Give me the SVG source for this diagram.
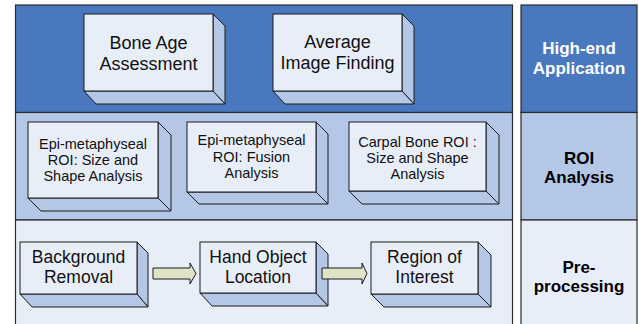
<svg xmlns="http://www.w3.org/2000/svg" width="639" height="324" viewBox="0 0 639 324">
<style>
.bd{stroke:#2b2b2b;stroke-width:1.2}
.front{fill:#e8eef8;stroke:#1a1a1a;stroke-width:1}
.side{fill:#b4c7e6;stroke:#1a1a1a;stroke-width:1;stroke-linejoin:miter}
.t{font-family:"Liberation Sans",Arial,sans-serif;fill:#111;text-anchor:middle;dominant-baseline:central}
.lab{font-family:"Liberation Sans",Arial,sans-serif;font-weight:bold;font-size:17px;text-anchor:middle;dominant-baseline:central}
.arr{fill:#dfe4c9;stroke:#1a1a1a;stroke-width:1}
</style>
<rect width="639" height="324" fill="#ffffff"/>
<g id="bands">
<rect x="15.5" y="5" width="497" height="107.5" fill="#4a78be" class="bd"/>
<rect x="15.5" y="112.5" width="497" height="107.5" fill="#b4c7e6" class="bd"/>
<rect x="15.5" y="220" width="497" height="110" fill="#e8eef8" class="bd"/>
<rect x="521" y="5" width="116" height="107.5" fill="#4a78be" class="bd"/>
<rect x="521" y="112.5" width="116" height="107.5" fill="#b4c7e6" class="bd"/>
<rect x="521" y="220" width="116" height="110" fill="#e8eef8" class="bd"/>
</g>
<g id="labels">
<text class="lab" x="579" y="48" fill="#ffffff">High-end</text>
<text class="lab" x="579" y="68" fill="#ffffff">Application</text>
<text class="lab" x="579" y="158" fill="#000">ROI</text>
<text class="lab" x="579" y="177" fill="#000">Analysis</text>
<text class="lab" x="579" y="267" fill="#000">Pre-</text>
<text class="lab" x="579" y="286" fill="#000">processing</text>
</g>
<g id="bone-age">
<polygon class="side" points="213,14 225,26 225,104 213,91"/>
<polygon class="side" points="84,91 96,104 225,104 213,91"/>
<rect class="front" x="84" y="14" width="129" height="77"/>
<text class="t" x="148.5" y="43" font-size="18">Bone Age</text>
<text class="t" x="148.5" y="64" font-size="18">Assessment</text>
</g>
<g id="avg-image">
<polygon class="side" points="402,14 414,26 414,104 402,91"/>
<polygon class="side" points="273,91 285,104 414,104 402,91"/>
<rect class="front" x="273" y="14" width="129" height="77"/>
<text class="t" x="337.5" y="42" font-size="18">Average</text>
<text class="t" x="337.5" y="63" font-size="18">Image Finding</text>
</g>
<g id="epi-size">
<polygon class="side" points="158,122 171,135 171,211 158,198"/>
<polygon class="side" points="28,198 41,211 171,211 158,198"/>
<rect class="front" x="28" y="122" width="130" height="76"/>
<text class="t" x="93" y="144" font-size="14.5">Epi-metaphyseal</text>
<text class="t" x="93" y="160" font-size="14.5">ROI: Size and</text>
<text class="t" x="93" y="176" font-size="14.5">Shape Analysis</text>
</g>
<g id="epi-fusion">
<polygon class="side" points="316,122 328,134 328,204 316,192"/>
<polygon class="side" points="187,192 199,204 328,204 316,192"/>
<rect class="front" x="187" y="122" width="129" height="70"/>
<text class="t" x="251.5" y="140" font-size="14.5">Epi-metaphyseal</text>
<text class="t" x="251.5" y="157" font-size="14.5">ROI: Fusion</text>
<text class="t" x="251.5" y="173" font-size="14.5">Analysis</text>
</g>
<g id="carpal">
<polygon class="side" points="486,122 499,135 499,204 486,191"/>
<polygon class="side" points="349,191 362,204 499,204 486,191"/>
<rect class="front" x="349" y="122" width="137" height="69"/>
<text class="t" x="417.5" y="142" font-size="14.5">Carpal Bone ROI :</text>
<text class="t" x="417.5" y="158" font-size="14.5">Size and Shape</text>
<text class="t" x="417.5" y="174" font-size="14.5">Analysis</text>
</g>
<g id="background-removal">
<polygon class="side" points="137,242 148,253 148,307 137,294"/>
<polygon class="side" points="20,294 32,307 148,307 137,294"/>
<rect class="front" x="20" y="242" width="117" height="52"/>
<text class="t" x="78.5" y="257" font-size="17.5">Background</text>
<text class="t" x="78.5" y="277" font-size="17.5">Removal</text>
</g>
<g id="hand-object">
<polygon class="side" points="316,242 328,254 328,306 316,293"/>
<polygon class="side" points="200,293 212,306 328,306 316,293"/>
<rect class="front" x="200" y="242" width="116" height="51"/>
<text class="t" x="258" y="257" font-size="17.5">Hand Object</text>
<text class="t" x="258" y="277" font-size="17.5">Location</text>
</g>
<g id="roi">
<polygon class="side" points="478,242 491,255 491,307 478,294"/>
<polygon class="side" points="371,294 384,307 491,307 478,294"/>
<rect class="front" x="371" y="242" width="107" height="52"/>
<text class="t" x="424.5" y="257" font-size="17.5">Region of</text>
<text class="t" x="424.5" y="277" font-size="17.5">Interest</text>
</g>
<g id="connectors">
<polygon class="arr" points="153,268 190,268 190,263 196,273.5 190,284 190,279 153,279"/>
<polygon class="arr" points="322,268 362,268 362,263 367,273.5 362,284 362,279 322,279"/>
</g>
</svg>
